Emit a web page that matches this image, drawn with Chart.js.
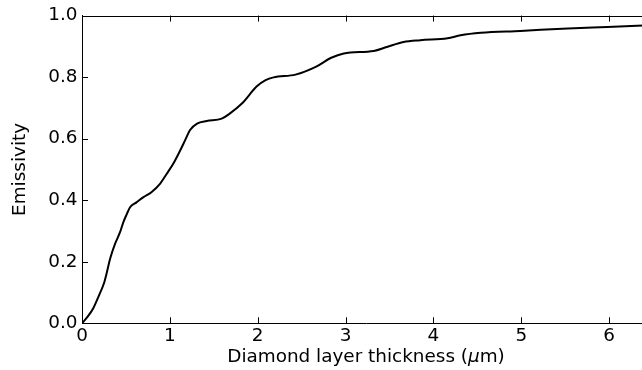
<!DOCTYPE html>
<html>
<head>
<meta charset="utf-8">
<title>Emissivity vs diamond layer thickness</title>
<script src="https://cdn.jsdelivr.net/npm/chart.js@4"></script>
<style>
  html, body { margin: 0; padding: 0; background: #fff; overflow: hidden; }
  #wrap { width: 642px; height: 370px; overflow: hidden; }
</style>
</head>
<body>
<div id="wrap"><canvas id="emissivityChart" width="650" height="370"></canvas></div>
<script>
// Emissivity curve (thickness in um)
const thickness = [
  0, 0.06, 0.13, 0.2, 0.25, 0.28, 0.32, 0.376, 0.433, 0.47, 0.51, 0.547,
  0.62, 0.7, 0.79, 0.89, 0.965, 1.04, 1.12, 1.174, 1.23, 1.31, 1.42, 1.59,
  1.67, 1.82, 1.99, 2.09, 2.18, 2.43, 2.66, 2.83, 2.98, 3.32, 3.47, 3.66,
  3.85, 4.16, 4.31, 4.54, 4.99, 5.53, 5.98, 6.5
];
const emissivity = [
  0, 0.02, 0.05, 0.095, 0.13, 0.162, 0.21, 0.258, 0.296, 0.328, 0.355, 0.377,
  0.393, 0.41, 0.426, 0.454, 0.486, 0.519, 0.563, 0.595, 0.628, 0.649, 0.657, 0.665,
  0.679, 0.714, 0.77, 0.79, 0.799, 0.808, 0.833, 0.862, 0.877, 0.885, 0.898, 0.914,
  0.92, 0.926, 0.936, 0.944, 0.95, 0.958, 0.963, 0.969
];
const xTicks = [0, 1, 2, 3, 4, 5, 6];
const yTicks = [0, 0.2, 0.4, 0.6, 0.8, 1.0];

const FONT_FAMILY = "'DejaVu Sans', sans-serif";
const FONT_SIZE = 18.4;

// Top frame line plus inward tick marks, matplotlib style
const inwardTicks = {
  id: "inwardTicks",
  afterDraw(chart) {
    const { ctx, chartArea, scales } = chart;
    const len = 6;
    ctx.save();
    ctx.strokeStyle = "#000";
    ctx.lineWidth = 1;
    ctx.beginPath();
    ctx.moveTo(chartArea.left, Math.round(chartArea.top) + 0.5);
    ctx.lineTo(chartArea.right, Math.round(chartArea.top) + 0.5);
    xTicks.forEach((v) => {
      const px = Math.round(scales.x.getPixelForValue(v)) + 0.5;
      ctx.moveTo(px, chartArea.bottom);
      ctx.lineTo(px, chartArea.bottom - len);
      ctx.moveTo(px, chartArea.top);
      ctx.lineTo(px, chartArea.top + len);
    });
    yTicks.forEach((v) => {
      const py = Math.round(scales.y.getPixelForValue(v)) + 0.5;
      ctx.moveTo(chartArea.left, py);
      ctx.lineTo(chartArea.left + len, py);
    });
    ctx.stroke();
    ctx.restore();
  },
};

// x-axis title with an italic mu, like mathtext
const xTitle = {
  id: "xTitle",
  afterDraw(chart) {
    const { ctx, chartArea } = chart;
    const parts = [
      { text: "Diamond layer thickness (", style: "normal" },
      { text: "\u03bc", style: "italic" },
      { text: "m)", style: "normal" },
    ];
    ctx.save();
    ctx.fillStyle = "#000";
    ctx.textBaseline = "alphabetic";
    ctx.textAlign = "left";
    let total = 0;
    parts.forEach((p) => {
      ctx.font = `${p.style} ${FONT_SIZE}px ${FONT_FAMILY}`;
      p.width = ctx.measureText(p.text).width;
      total += p.width;
    });
    let x = (chartArea.left + chartArea.right) / 2 - total / 2;
    const y = chartArea.bottom + 38.4;
    parts.forEach((p) => {
      ctx.font = `${p.style} ${FONT_SIZE}px ${FONT_FAMILY}`;
      ctx.fillText(p.text, x, y);
      x += p.width;
    });
    ctx.restore();
  },
};

const ctx = document.getElementById("emissivityChart").getContext("2d");

new Chart(ctx, {
  type: "line",
  data: {
    datasets: [
      {
        data: thickness.map((t, i) => ({ x: t, y: emissivity[i] })),
        borderColor: "#000",
        borderWidth: 2,
        pointRadius: 0,
        cubicInterpolationMode: "monotone",
        fill: false,
      },
    ],
  },
  options: {
    responsive: false,
    animation: false,
    layout: { padding: { top: 14.7, right: 0, bottom: 0, left: 0 } },
    plugins: {
      legend: { display: false },
      tooltip: { enabled: false },
    },
    scales: {
      x: {
        type: "linear",
        min: 0,
        max: 6.465,
        afterBuildTicks: (scale) => {
          scale.ticks = xTicks.map((v) => ({ value: v }));
        },
        afterFit: (scale) => {
          scale.height = 46.7;
        },
        grid: { display: false, drawTicks: false },
        border: { display: true, color: "#000", width: 1 },
        ticks: {
          padding: 2,
          color: "#000",
          maxRotation: 0,
          font: { family: FONT_FAMILY, size: FONT_SIZE },
          callback: (v) => String(v),
        },
      },
      y: {
        min: 0,
        max: 1,
        afterBuildTicks: (scale) => {
          scale.ticks = yTicks.map((v) => ({ value: v }));
        },
        afterFit: (scale) => {
          scale.width = 82;
        },
        grid: { display: false, drawTicks: false },
        border: { display: true, color: "#000", width: 1 },
        ticks: {
          padding: 4.5,
          color: "#000",
          font: { family: FONT_FAMILY, size: FONT_SIZE },
          callback: (v) => v.toFixed(1),
        },
        title: {
          display: true,
          text: "Emissivity",
          color: "#000",
          font: { family: FONT_FAMILY, size: FONT_SIZE },
          padding: { top: 9, bottom: 0 },
        },
      },
    },
  },
  plugins: [inwardTicks, xTitle],
});
</script>
</body>
</html>
